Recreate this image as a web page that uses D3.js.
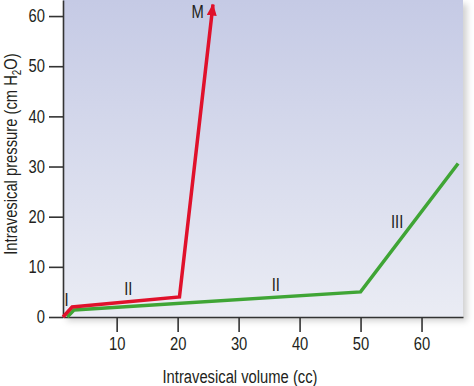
<!DOCTYPE html>
<html>
<head>
<meta charset="utf-8">
<script src="https://cdn.jsdelivr.net/npm/d3@7"></script>
<style>
  body { margin: 0; background: #fff; }
  text { font-family: "Liberation Sans Narrow", "Arial Narrow", "Liberation Sans", Arial, sans-serif; fill: #231f20; }
</style>
</head>
<body>
<div id="chart"></div>
<script>
const xTicks = [10, 20, 30, 40, 50, 60];
const yTicks = [0, 10, 20, 30, 40, 50, 60];

// curve M (red) and normal curve (green), volume in cc, pressure in cm H2O
const redVolume = [1.2, 2.7, 20.3, 25.8];
const redPressure = [0, 2.0, 4.0, 62.3];
const greenVolume = [1.9, 3.0, 50, 66];
const greenPressure = [0, 1.4, 5.0, 30.6];

const labelText = ["I", "II", "II", "III", "M"];
const labelVolume = [1.8, 11.9, 36.1, 56.0, 23.3];
const labelPressure = [3.4, 5.6, 6.4, 19.0, 60.8];

const width = 474;
const height = 386;
const margin = { top: 0, right: 11, bottom: 69, left: 63 };

const svg = d3.select("#chart")
    .append("svg")
    .attr("width", width)
    .attr("height", height);

const defs = svg.append("defs");

const grad = defs.append("linearGradient")
    .attr("id", "bg")
    .attr("x1", 0).attr("y1", 0).attr("x2", 0).attr("y2", 1);
grad.append("stop").attr("offset", "0%").attr("stop-color", "#c5cae5");
grad.append("stop").attr("offset", "100%").attr("stop-color", "#eaecf4");

const shadow = defs.append("filter")
    .attr("id", "shadow")
    .attr("x", "-5%").attr("y", "-5%").attr("width", "115%").attr("height", "115%");
shadow.append("feDropShadow")
    .attr("dx", 4).attr("dy", 4).attr("stdDeviation", 3)
    .attr("flood-color", "#000").attr("flood-opacity", 0.18);

defs.append("marker")
    .attr("id", "arrow")
    .attr("markerUnits", "userSpaceOnUse")
    .attr("viewBox", "0 0 12 10")
    .attr("refX", 11).attr("refY", 5)
    .attr("markerWidth", 12).attr("markerHeight", 10)
    .attr("orient", "auto")
    .append("path")
    .attr("d", "M0,0 L12,5 L0,10 Z")
    .attr("fill", "#e0112b");

const x = d3.scaleLinear()
    .domain([1.2, 66.8])
    .range([margin.left, width - margin.right]);

const y = d3.scaleLinear()
    .domain([0, 63.2])
    .range([height - margin.bottom, margin.top]);

svg.append("rect")
    .attr("x", margin.left)
    .attr("y", margin.top)
    .attr("width", width - margin.left - margin.right)
    .attr("height", height - margin.top - margin.bottom)
    .attr("fill", "url(#bg)")
    .attr("filter", "url(#shadow)");

const xAxis = svg.append("g")
    .attr("transform", `translate(0,${height - margin.bottom})`)
    .call(d3.axisBottom(x).tickValues(xTicks).tickSize(15).tickPadding(5).tickSizeOuter(0));

const yAxis = svg.append("g")
    .attr("transform", `translate(${margin.left},0)`)
    .call(d3.axisLeft(y).tickValues(yTicks).tickSize(14).tickPadding(4).tickSizeOuter(0));

[xAxis, yAxis].forEach((g) => {
    g.select(".domain").attr("stroke", "#333").attr("stroke-width", 1.6);
    g.selectAll(".tick line").attr("stroke", "#333").attr("stroke-width", 1.6);
    g.selectAll(".tick text")
        .style("font-size", "18px")
        .style("font-family", null)
        .attr("fill", "#231f20");
});

const line = d3.line()
    .x((d) => x(d[0]))
    .y((d) => y(d[1]));

svg.append("path")
    .datum(greenVolume.map((v, i) => [v, greenPressure[i]]))
    .attr("d", line)
    .attr("fill", "none")
    .attr("stroke", "#3fa535")
    .attr("stroke-width", 3.5)
    .attr("stroke-linejoin", "miter");

svg.append("path")
    .datum(redVolume.map((v, i) => [v, redPressure[i]]))
    .attr("d", line)
    .attr("fill", "none")
    .attr("stroke", "#e0112b")
    .attr("stroke-width", 3.5)
    .attr("stroke-linejoin", "miter")
    .attr("marker-end", "url(#arrow)");

svg.selectAll(".curve-label")
    .data(labelText)
    .enter()
    .append("text")
    .attr("class", "curve-label")
    .attr("x", (d, i) => x(labelVolume[i]))
    .attr("y", (d, i) => y(labelPressure[i]))
    .attr("text-anchor", "middle")
    .attr("dy", "0.35em")
    .style("font-size", "18px")
    .text((d) => d);

svg.append("text")
    .attr("x", 240)
    .attr("y", 383)
    .attr("text-anchor", "middle")
    .style("font-size", "18px")
    .text("Intravesical volume (cc)");

const yTitle = svg.append("text")
    .attr("transform", "translate(17,154) rotate(-90)")
    .attr("text-anchor", "middle")
    .style("font-size", "18px");
yTitle.append("tspan").text("Intravesical pressure (cm H");
yTitle.append("tspan").attr("dy", 4).style("font-size", "12px").text("2");
yTitle.append("tspan").attr("dy", -4).text("O)");

// no narrow face installed: squeeze the glyphs to the condensed look
svg.selectAll("text").each(function () {
    const w = this.getComputedTextLength();
    d3.select(this)
        .attr("textLength", w * 0.82)
        .attr("lengthAdjust", "spacingAndGlyphs");
});
</script>
</body>
</html>
